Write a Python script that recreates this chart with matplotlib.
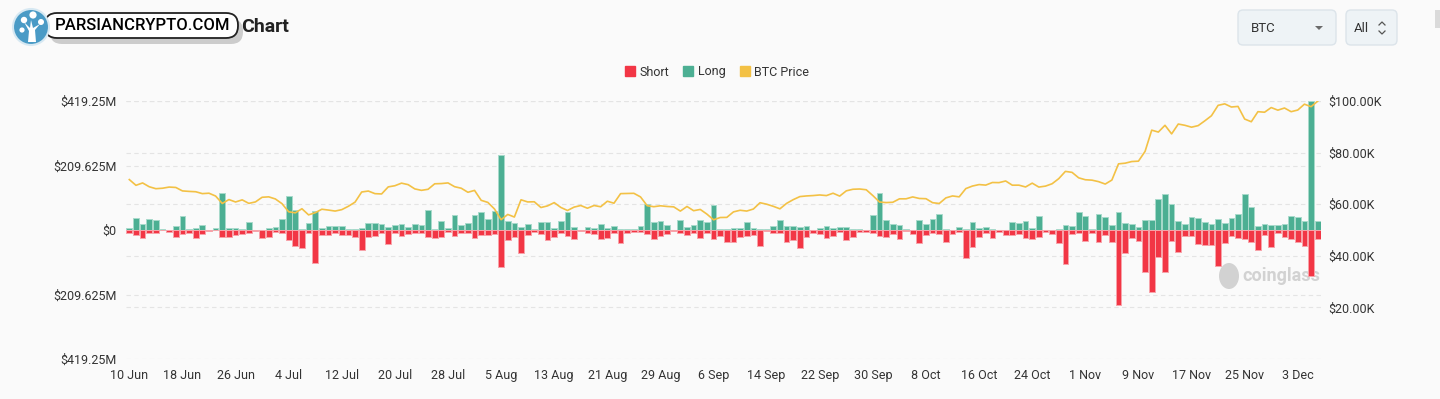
import numpy as np
import pandas as pd
import matplotlib
matplotlib.use("Agg")
import matplotlib.pyplot as plt
from matplotlib.patches import FancyBboxPatch, Circle, Ellipse, Polygon, Rectangle, Patch
from matplotlib.lines import Line2D

plt.rcParams['font.family'] = ['Roboto', 'DejaVu Sans']

# daily liquidations, millions USD, 10 Jun 2024 .. 6 Dec 2024
dates = pd.date_range('2024-06-10', periods=180, freq='D')

long_liq = [
    5, 38, 21, 36, 34, 2, 1, 14, 45, 4, 8, 15, 1, 8, 121, 8, 5, 3, 25, 1,
    1, 8, 10, 35, 111, 64, 2, 24, 63, 6, 12, 14, 14, 2, 2, 5, 23, 23, 21, 10,
    15, 20, 9, 18, 15, 64, 2, 28, 5, 49, 17, 22, 48, 57, 35, 63, 245, 30, 24, 10,
    21, 2, 25, 25, 8, 28, 60, 9, 1, 11, 5, 20, 7, 13, 4, 4, 2, 13, 85, 26,
    29, 16, 1, 34, 11, 15, 31, 26, 82, 2, 2, 7, 7, 27, 5, 2, 3, 13, 31, 13,
    14, 9, 14, 1, 8, 14, 7, 10, 10, 3, 3, 1, 49, 121, 33, 20, 15, 3, 1, 33,
    18, 37, 52, 2, 1, 11, 2, 25, 8, 10, 4, 1, 1, 25, 22, 29, 8, 47, 1, 1,
    2, 16, 13, 58, 46, 2, 53, 43, 15, 57, 22, 18, 11, 33, 33, 101, 117, 83, 29, 20,
    42, 39, 26, 18, 36, 24, 39, 52, 116, 74, 13, 20, 17, 16, 18, 47, 43, 28, 419, 28,
]

short_liq = [
    9, 16, 27, 9, 11, 1, 5, 22, 14, 9, 25, 12, 2, 1, 23, 24, 15, 12, 11, 4,
    25, 24, 6, 10, 34, 52, 60, 9, 106, 16, 16, 11, 16, 16, 22, 65, 24, 20, 11, 45,
    9, 18, 14, 11, 11, 22, 25, 24, 6, 21, 10, 11, 25, 16, 16, 14, 119, 32, 22, 76,
    16, 6, 13, 32, 22, 11, 18, 29, 4, 9, 12, 28, 25, 9, 43, 9, 8, 5, 12, 29,
    21, 14, 3, 11, 17, 11, 25, 10, 30, 20, 38, 38, 24, 20, 16, 51, 4, 9, 10, 38,
    32, 60, 22, 9, 12, 27, 20, 6, 31, 24, 5, 8, 9, 20, 24, 14, 28, 3, 13, 41,
    15, 9, 14, 38, 12, 8, 92, 54, 23, 11, 25, 5, 16, 16, 14, 25, 28, 22, 8, 14,
    43, 110, 12, 9, 36, 11, 40, 16, 40, 245, 75, 27, 36, 138, 201, 87, 138, 35, 70, 20,
    20, 46, 49, 49, 117, 41, 20, 27, 30, 40, 66, 16, 56, 9, 22, 30, 38, 52, 150, 30,
]

btc_price = [
    69540, 67320, 68240, 66760, 66010, 66190, 66640, 66490, 65150, 64960, 64830,
    64100, 64260, 63160, 60280, 61800, 60860, 61680, 60320, 60890, 62680,
    62850, 62030, 60200, 57060, 56660, 58240, 55860, 56700, 58050, 57720, 57340,
    57890, 59200, 60800, 64730, 65100, 64090, 63970, 66710, 67160, 68160, 67580,
    65930, 65370, 65780, 67910, 68000, 68250, 66780, 66190, 64620,
    65350, 61500, 60700, 58160, 53990, 56030, 55030, 61710, 60880, 60940, 58710,
    59350, 60610, 58740, 57560, 58880, 59490, 58440, 59490, 59010, 61160, 60380,
    64100, 64180, 64220, 62830, 59420, 59030, 59380, 59120, 58970,
    57330, 59120, 57480, 57970, 56160, 53950, 54840, 54890, 57020, 57650, 57340,
    58130, 60570, 60000, 59180, 58210, 60310, 61760, 62950, 63200, 63350, 63580,
    63340, 64260, 63140, 65180, 65790, 65890, 65600, 63330,
    60840, 60630, 60750, 62080, 62090, 62820, 62220, 62130, 60580, 60280, 62450,
    63200, 62850, 66050, 67040, 67610, 67400, 68410, 68360, 69000, 67370, 67380,
    66680, 68160, 66640, 67010, 67930, 69910, 72720, 72340, 70220,
    69480, 69320, 68740, 67810, 69360, 75640, 75900, 76540, 76680, 80470, 88700,
    87960, 90580, 87250, 91070, 90580, 89850, 90460, 92310, 94290, 98320, 98890,
    97670, 97900, 93010, 91960, 95860, 95650, 97460, 96450,
    97280, 95860, 96500, 98770, 97800, 99920,
]

left_ticks = [-419.25, -209.625, 0, 209.625, 419.25]
left_labels = ['$419.25M', '$209.625M', '$0', '$209.625M', '$419.25M']
right_ticks = [20000, 40000, 60000, 80000, 100000]
right_labels = ['$20.00K', '$40.00K', '$60.00K', '$80.00K', '$100.00K']

RED = '#F23645'
RED_EDGE = '#F8A3AA'
TEAL = '#4CAF93'
TEAL_EDGE = '#A8DACB'
GOLD = '#F3C145'
TXT = '#333333'

W, H = 1440, 399
fig = plt.figure(figsize=(W / 100, H / 100), dpi=100)
fig.patch.set_facecolor('#FAFAFA')

# overlay in pixel units for header elements
ov = fig.add_axes([0, 0, 1, 1])
ov.set_xlim(0, W)
ov.set_ylim(H, 0)
ov.axis('off')

# watermark badge
ov.add_patch(FancyBboxPatch((50, 19), 193, 25, boxstyle='round,pad=0,rounding_size=12',
                            fc='#000000', ec='none', alpha=0.18))
ov.add_patch(FancyBboxPatch((45, 13), 193, 25, boxstyle='round,pad=0,rounding_size=12',
                            fc='white', ec='#222222', lw=1.3))
ov.text(143, 26, 'PARSIANCRYPTO.COM', ha='center', va='center', fontsize=12,
        fontweight='medium', color='black')
ov.add_patch(Circle((31, 27), 18, fc='#4A9BC6', ec='#D6E8F2', lw=1.5))
for cx, cy, r in [(24, 20, 3.2), (33, 15, 3.6), (41, 22, 3.0), (22, 30, 2.6)]:
    ov.add_patch(Circle((cx, cy), r, fc='white', ec='none'))
ov.add_patch(Polygon([(28, 42), (36, 42), (35, 30), (40, 24), (33, 28), (31, 20),
                      (30, 28), (24, 22), (29, 31)], fc='white', ec='none'))
ov.text(241, 27, 'Chart', ha='left', va='center', fontsize=14, fontweight='bold', color='#222222')

# selectors top right
ov.add_patch(FancyBboxPatch((1238, 10), 98, 35, boxstyle='round,pad=0,rounding_size=5',
                            fc='#EEF3F6', ec='#DCE4EA', lw=1))
ov.text(1251, 28, 'BTC', ha='left', va='center', fontsize=9.5, color=TXT)
ov.add_patch(Polygon([(1315, 26), (1323, 26), (1319, 30)], fc='#6B6B6B', ec='none'))
ov.add_patch(FancyBboxPatch((1346, 10), 51, 35, boxstyle='round,pad=0,rounding_size=5',
                            fc='#EEF3F6', ec='#DCE4EA', lw=1))
ov.text(1354, 28, 'All', ha='left', va='center', fontsize=9.5, color=TXT)
ov.add_line(Line2D([1379, 1382, 1385], [25, 22, 25], color='#555555', lw=0.9))
ov.add_line(Line2D([1379, 1382, 1385], [31, 34, 31], color='#555555', lw=0.9))
ov.add_patch(Rectangle((1435, 10), 5, 18, fc='#DADADA', ec='none'))

# coinglass watermark (behind the bars)
ov.add_patch(Ellipse((1229, 276), 20, 26, fc='#D2D2D2', ec='none'))
ov.text(1281, 276, 'coinglass', ha='center', va='center', fontsize=13,
        fontweight='bold', color='#D2D2D2')

# main axes
x = np.arange(len(dates))
ax = fig.add_axes([126 / W, 1 - 359 / H, 1195 / W, 258 / H])
ax.set_facecolor('none')
ax.set_xlim(-0.5, len(dates) - 0.5)
ax.set_ylim(-419.25, 419.25)

grid_vals = left_ticks + [-419.25 + p / 100000 * 838.5 for p in right_ticks]
for g in grid_vals:
    ax.axhline(g, color='#E4E4E4', lw=0.8, dashes=(4, 3), zorder=0)

ax.bar(x, long_liq, width=0.86, color=TEAL, edgecolor=TEAL_EDGE, linewidth=0.7, zorder=2)
ax.bar(x, [-v for v in short_liq], width=0.86, color=RED, edgecolor=RED_EDGE, linewidth=0.7, zorder=2)

ax.set_yticks(left_ticks)
ax.set_yticklabels(left_labels)
tick_pos = x[::8]
ax.set_xticks(tick_pos)
ax.set_xticklabels([f"{dates[i].day} {dates[i].strftime('%b')}" for i in tick_pos])
ax.tick_params(axis='y', length=0, pad=7, labelsize=9, labelcolor=TXT)
ax.tick_params(axis='x', length=0, pad=7, labelsize=9, labelcolor=TXT)
for s in ax.spines.values():
    s.set_visible(False)

ax2 = ax.twinx()
ax2.set_ylim(0, 100000)
ax2.plot(x, btc_price, color=GOLD, lw=1.2, zorder=3)
ax2.set_yticks(right_ticks)
ax2.set_yticklabels(right_labels)
ax2.tick_params(axis='y', length=0, pad=5, labelsize=9, labelcolor=TXT)
for s in ax2.spines.values():
    s.set_visible(False)

handles = [Patch(color=RED, label='Short'), Patch(color=TEAL, label='Long'),
           Patch(color=GOLD, label='BTC Price')]
leg = fig.legend(handles=handles, loc='center', bbox_to_anchor=(717 / W, 1 - 72 / H), ncol=3,
                 frameon=False, fontsize=9, handlelength=0.8, handleheight=0.8,
                 handletextpad=0.4, columnspacing=1.1)
for t in leg.get_texts():
    t.set_color(TXT)

fig.savefig('out.png', dpi=100, facecolor=fig.get_facecolor())
